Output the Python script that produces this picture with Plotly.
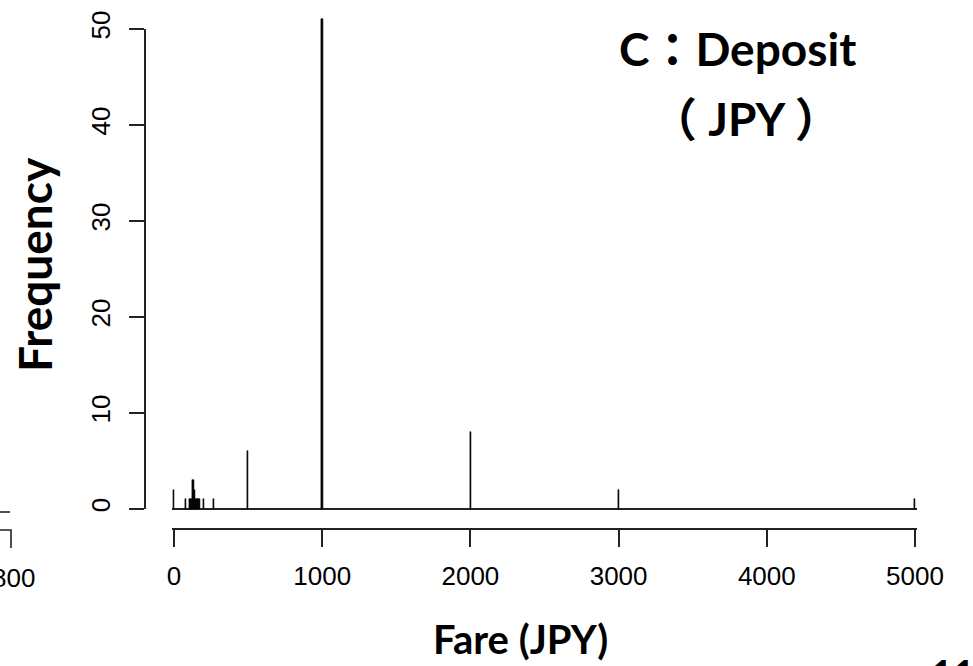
import plotly.graph_objects as go

# ---- data ----
fares = [0, 80, 110, 120, 130, 140, 150, 160, 170, 200, 270, 500, 1000, 2000, 3000, 5000]
counts = [2, 1, 1, 1, 3, 2, 1, 1, 1, 1, 1, 6, 51, 8, 2, 1]
x_ticks = [0, 1000, 2000, 3000, 4000, 5000]
y_ticks = [0, 10, 20, 30, 40, 50]

W, H = 973, 666
def fx(px):
    return px / W
def fy(py):
    return 1 - py / H

# pixel geometry
X0_PX, X_PER = 174.0, (915.0 - 174.0) / 5000.0   # x: 0 -> 174px, 5000 -> 915px
Y0_PX, Y_PER = 509.0, (509.0 - 29.0) / 50.0       # y: 0 -> 509px, 50 -> 29px

xr = [-12, 5012]
yr = [-0.35, 52.6]
x_dom = [fx(X0_PX + xr[0] * X_PER), fx(X0_PX + xr[1] * X_PER)]
y_dom = [fy(Y0_PX - yr[0] * Y_PER), fy(Y0_PX - yr[1] * Y_PER)]

tick_font = dict(family="Liberation Sans Narrow, Arial Narrow, Liberation Sans, Arial, sans-serif",
                 size=26, color="#000000")
title_font = "Lato, Noto Sans CJK JP, sans-serif"

fig = go.Figure()
fig.add_trace(go.Bar(x=fares, y=counts, width=8, marker=dict(color="black", line=dict(color="black", width=0.6)),
                     xaxis="x", yaxis="y", showlegend=False, hoverinfo="x+y"))
# carrier trace for the visible frequency axis
fig.add_trace(go.Scatter(x=[], y=[], xaxis="x", yaxis="y2", showlegend=False, hoverinfo="skip"))

fig.update_layout(
    width=W, height=H,
    margin=dict(l=0, r=0, t=0, b=0, autoexpand=False),
    paper_bgcolor="white", plot_bgcolor="rgba(0,0,0,0)",
    showlegend=False,
    bargap=0,
    xaxis=dict(domain=x_dom, range=xr, anchor="free", position=fy(529), automargin=False,
               showline=True, linecolor="#222", linewidth=1.6,
               ticks="outside", ticklen=17, tickwidth=1.6, tickcolor="#222",
               tickvals=x_ticks, ticktext=[str(v) for v in x_ticks], tickfont=tick_font,
               showgrid=False, zeroline=False, ticklabelstandoff=7),
    yaxis=dict(domain=y_dom, range=yr, anchor="x", automargin=False, showline=False,
               showticklabels=False, ticks="", showgrid=False,
               zeroline=True, zerolinecolor="#222", zerolinewidth=1.6),
    yaxis2=dict(domain=[fy(Y0_PX), fy(Y0_PX - 50 * Y_PER)], range=[0, 50], anchor="free", position=fx(145),
                automargin=False,
                showline=True, linecolor="#222", linewidth=1.6,
                ticks="outside", ticklen=15, tickwidth=1.6, tickcolor="#222",
                tickvals=y_ticks, ticktext=[str(v) for v in y_ticks], tickangle=-90,
                tickfont=tick_font, showgrid=False, zeroline=False, ticklabelstandoff=9),
)

ann = []
ann.append(dict(text="<b>C：Deposit</b>", x=fx(737), y=fy(49), xref="paper", yref="paper",
                showarrow=False, xanchor="center", yanchor="middle",
                font=dict(family=title_font, size=46, color="black")))
ann.append(dict(text="<b>（ JPY ）</b>", x=fx(746), y=fy(118), xref="paper", yref="paper",
                showarrow=False, xanchor="center", yanchor="middle",
                font=dict(family=title_font, size=46, color="black")))
ann.append(dict(text="<b>Frequency</b>", x=fx(34), y=fy(265), xref="paper", yref="paper",
                showarrow=False, xanchor="center", yanchor="middle", textangle=-90,
                font=dict(family=title_font, size=46, color="black")))
ann.append(dict(text="<b>Fare (JPY)</b>", x=fx(520), y=fy(639), xref="paper", yref="paper",
                showarrow=False, xanchor="center", yanchor="middle",
                font=dict(family=title_font, size=40, color="black")))
ann.append(dict(text="<b>11</b>", x=fx(929), y=fy(648), xref="paper", yref="paper",
                showarrow=False, xanchor="left", yanchor="top",
                font=dict(family=title_font, size=38, color="black")))
# fragment of the neighbouring chart at the left edge
ann.append(dict(text="800", x=fx(13), y=fy(578), xref="paper", yref="paper",
                showarrow=False, xanchor="center", yanchor="middle", font=tick_font))
fig.update_layout(annotations=ann)

fig.add_shape(type="line", xref="paper", yref="paper", x0=fx(0), x1=fx(10), y0=fy(512), y1=fy(512),
              line=dict(color="#222", width=1.6))
fig.add_shape(type="path", xref="paper", yref="paper",
              path=f"M {fx(0)} {fy(530)} L {fx(11)} {fy(530)} L {fx(11)} {fy(548)}",
              line=dict(color="#222", width=1.6))

fig.write_html("out.html")
